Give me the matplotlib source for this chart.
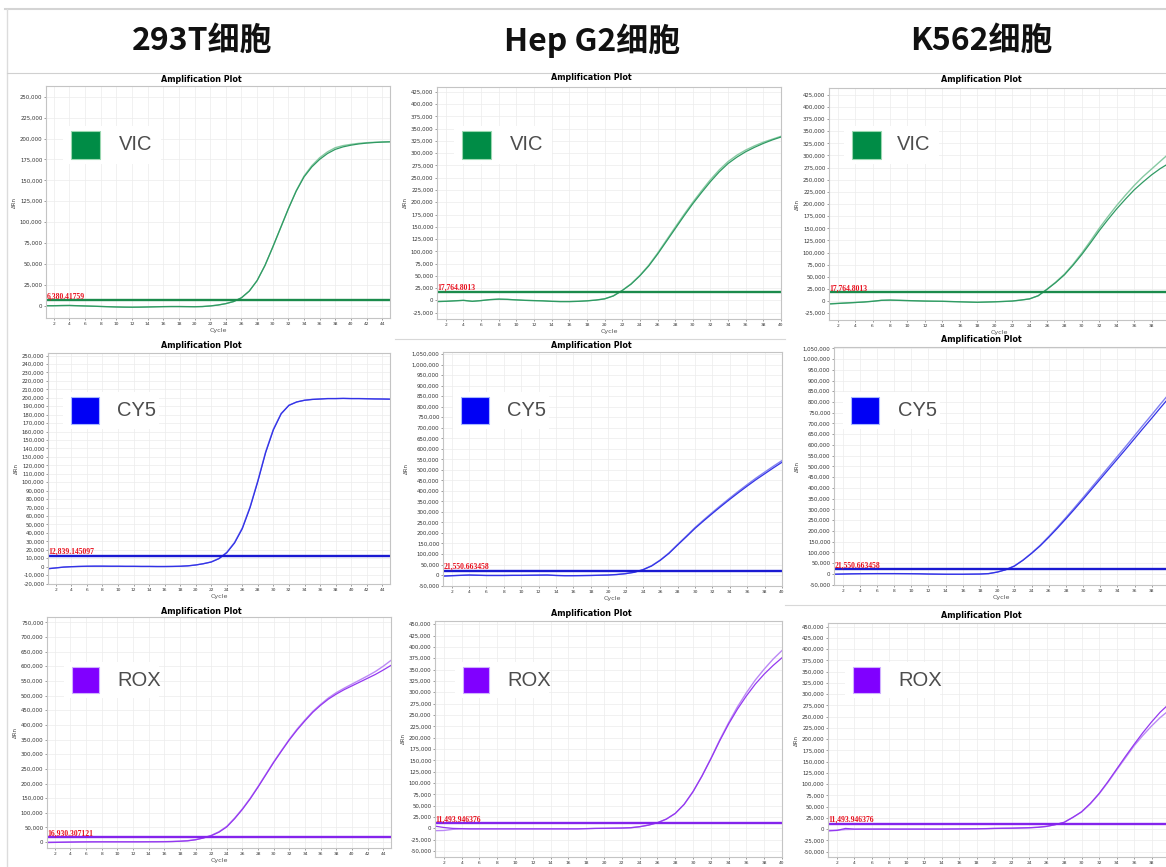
import matplotlib
matplotlib.use('Agg')
import matplotlib.pyplot as plt
from matplotlib.patches import Rectangle
from matplotlib.lines import Line2D
from matplotlib.ticker import FuncFormatter, MultipleLocator

W, H = 1166, 867

cells = ['293T细胞', 'Hep G2细胞', 'K562细胞']
dyes = ['VIC', 'CY5', 'ROX']

cycles_293t = list(range(1, 46))
cycles_k = list(range(1, 41))

# 293T
vic_293t_a = [0, 0, 200, 300, 0, -300, -600, -900, -1200, -1500, -1700, -1800, -1700, -1500, -1300,
              -1100, -1000, -1000, -1100, -1200, -1000, -300, 800, 2500, 5000, 9500, 17500, 30000, 48000, 70000,
              93000, 116000, 137000, 154000, 166000, 175000, 182000, 187000, 190000, 192000, 193500, 194500, 195200, 195700, 196000]
vic_293t_b = [0, 0, 200, 300, 0, -300, -600, -900, -1200, -1500, -1700, -1800, -1700, -1500, -1300,
              -1100, -1000, -1000, -1100, -1200, -1000, -300, 800, 2500, 5000, 9500, 17500, 30000, 48000, 70000,
              93000, 116000, 137500, 155000, 167500, 177000, 184000, 189000, 191500, 193000, 194200, 195000, 195500, 195900, 196200]
cy5_293t_a = [-2500, -1500, -500, 0, 300, 500, 600, 600, 500, 500, 400, 400, 300, 300, 200,
              200, 300, 500, 1000, 2000, 3500, 5500, 9500, 16500, 28000, 45000, 70000, 101000, 135000, 162000,
              181000, 191000, 195000, 197000, 198000, 198500, 199000, 199000, 199200, 199000, 199000, 198800, 198600, 198500, 198300]
cy5_293t_b = [-2300, -1400, -500, 0, 300, 500, 600, 600, 500, 500, 400, 400, 300, 300, 200,
              200, 300, 500, 1000, 2000, 3600, 5700, 9800, 17000, 28800, 46000, 71000, 102000, 136000, 163000,
              181500, 191200, 195100, 197100, 198100, 198600, 199100, 199100, 199300, 199100, 199100, 198900, 198700, 198600, 198400]
rox_293t_a = [-1500, -1000, -500, 0, 500, 800, 1000, 1000, 1000, 1000, 1000, 1000, 1000, 1200, 1300,
              1500, 2000, 3000, 4500, 8000, 14000, 22000, 34000, 52000, 80000, 112000, 148000, 188000, 230000, 272000,
              311000, 349000, 383000, 414000, 443000, 467000, 488000, 505000, 520000, 533000, 546000, 559000, 572000, 587000, 603000]
rox_293t_b = [0, 0, 300, 600, 900, 1100, 1200, 1300, 1300, 1300, 1300, 1300, 1400, 1500, 1600,
              1800, 2300, 3300, 5000, 8600, 14800, 23000, 35500, 54000, 82000, 114000, 150000, 190000, 232000, 274000,
              313000, 351000, 386000, 417000, 446000, 470000, 492000, 510000, 525000, 539000, 553000, 567000, 582000, 600000, 620000]

# Hep G2
vic_hep_a = [-2500, -2000, -1000, 0, -2000, -500, 1500, 2500, 2000, 1000, 0, -500, -1000, -2000, -2500,
             -2500, -2000, -1000, 500, 3000, 9000, 20000, 33000, 50000, 70000, 94000, 120000, 146000, 172000, 197000,
             220000, 242000, 262000, 279000, 292000, 303000, 312000, 320000, 327000, 333000]
vic_hep_b = [-2300, -1800, -900, 0, -1800, -400, 1500, 2400, 1900, 900, 0, -500, -1000, -1900, -2400,
             -2400, -1900, -900, 600, 3200, 9400, 20500, 33700, 51000, 71500, 96000, 122500, 149000, 175000, 200000,
             223500, 246000, 266000, 283000, 296000, 306500, 315000, 322500, 328500, 334500]
cy5_hep_a = [-5000, -3000, -1500, 0, -1000, -2000, -2000, -2000, -1500, -1500, -1000, -500, 0, -2000, -3000,
             -3000, -2500, -2000, -1000, 0, 2500, 6500, 13000, 25000, 43000, 70000, 103000, 143000, 182000, 222000,
             258000, 293000, 327000, 360000, 392000, 423000, 453000, 481000, 509000, 536000]
cy5_hep_b = [-4800, -2900, -1400, 0, -1000, -1900, -1900, -1900, -1400, -1400, -900, -400, 0, -1900, -2900,
             -2900, -2400, -1900, -900, 200, 2800, 7000, 13800, 26000, 44500, 72000, 105500, 146000, 185500, 226000,
             262500, 298000, 332500, 366000, 398500, 430000, 460500, 489000, 517000, 544000]
rox_hep_a = [5000, 2000, 0, -500, -1000, -1000, -1000, -1000, -1000, -1000, -1000, -1000, -1000, -1000, -1000,
             -1000, -1000, -500, 0, 200, 500, 800, 1500, 3700, 7300, 12500, 20500, 33000, 53000, 81000,
             115000, 153000, 193000, 230000, 263000, 292000, 318000, 340000, 359000, 376000]
rox_hep_b = [-5000, -4500, -2000, -1000, -1000, -1000, -1000, -1000, -1000, -1000, -1000, -1000, -1000, -1000, -1000,
             -1000, -1000, -500, 0, 200, 500, 800, 1500, 3700, 7300, 12500, 20500, 33000, 53000, 81000,
             115500, 154000, 195000, 233000, 268000, 299000, 327000, 351000, 373000, 392000]

# K562
vic_k_a = [-6000, -5000, -4000, -3000, -2000, -500, 1500, 2000, 1500, 1000, 500, 0, -300, -500, -1000,
           -1500, -2000, -2500, -2000, -1500, -800, 0, 2000, 4500, 11000, 24000, 38000, 54000, 74000, 96000,
           120000, 145000, 168000, 190000, 210000, 229000, 245000, 260000, 273000, 284000]
vic_k_b = [-5500, -4600, -3700, -2800, -1800, -400, 1500, 2000, 1500, 1000, 500, 0, -300, -500, -1000,
           -1500, -2000, -2500, -2000, -1500, -800, 0, 2000, 4500, 11000, 24500, 39000, 55500, 76000, 99000,
           124000, 150000, 174000, 197000, 218000, 238000, 256000, 272000, 288000, 304000]
cy5_k_a = [-2000, -1000, 0, 500, 800, 1000, 1000, 1000, 800, 500, 0, -1000, -1500, -2000, -2000,
           -2000, -1500, -1000, 1000, 8000, 19000, 36000, 63000, 95000, 130000, 170000, 212000, 256000, 301000, 347000,
           394000, 441000, 488000, 535000, 582000, 630000, 678000, 725000, 773000, 820000]
cy5_k_b = [-1800, -900, 0, 500, 800, 1000, 1000, 1000, 800, 500, 0, -1000, -1500, -2000, -2000,
           -2000, -1500, -1000, 1100, 8200, 19500, 36800, 64300, 97000, 133000, 174000, 217000, 262000, 308000, 355000,
           403000, 451000, 499000, 547000, 595000, 644000, 693000, 741000, 790000, 838000]
rox_k_a = [-4000, -3000, 1500, 0, 0, 0, 0, 0, 0, 0, 0, 0, 0, 0, 200,
           300, 500, 700, 1000, 1500, 1800, 2000, 2500, 3000, 4000, 6000, 10000, 15000, 26000, 38500,
           57000, 79000, 105000, 133000, 161000, 188000, 214000, 238000, 260000, 278000]
rox_k_b = [-3000, -2500, -1000, -500, 0, 0, 0, 0, 0, 0, 0, 0, 0, 0, 200,
           300, 500, 700, 1000, 1500, 1800, 2000, 2500, 3000, 4000, 6000, 10000, 15000, 26000, 38000,
           56000, 78000, 103500, 131000, 158000, 185000, 208000, 229000, 248000, 264000]

thresholds = [[6380.41759, 17764.8013, 17764.8013],
              [12839.145097, 21550.663458, 21550.663458],
              [16930.307121, 11493.946376, 11493.946376]]
thr_labels = [['6,380.41759', '17,764.8013', '17,764.8013'],
              ['12,839.145097', '21,550.663458', '21,550.663458'],
              ['16,930.307121', '11,493.946376', '11,493.946376']]

curves = [[(vic_293t_a, vic_293t_b), (vic_hep_a, vic_hep_b), (vic_k_a, vic_k_b)],
          [(cy5_293t_a, cy5_293t_b), (cy5_hep_a, cy5_hep_b), (cy5_k_a, cy5_k_b)],
          [(rox_293t_a, rox_293t_b), (rox_hep_a, rox_hep_b), (rox_k_a, rox_k_b)]]
cycles = [cycles_293t, cycles_k, cycles_k]
xmax = [45, 40, 40]

# layout in pixels: axes box (left, top, right, bottom), ylim, y step
boxes = [[(46, 86, 390, 318), (437, 87, 781, 319), (829, 88, 1169, 320)],
         [(48, 353, 390, 584), (443, 352, 782, 586), (834, 347, 1169, 585)],
         [(47, 617, 391, 848), (435, 621, 782, 857), (828, 623, 1169, 857)]]
ylims = [[(-14700, 262800), (-38000, 435000), (-39000, 439000)],
         [(-20500, 253000), (-52000, 1060000), (-52000, 1056000)],
         [(-20000, 768000), (-63000, 457000), (-62000, 458000)]]
ysteps = [[25000, 25000, 25000], [10000, 50000, 50000], [50000, 25000, 25000]]
title_y = [[79, 78, 80], [345, 346, 339], [612, 613, 615]]
title_x = [201, 591, 981]
squares = [[(71, 131, 100, 159), (462, 131, 491, 159), (852, 131, 881, 159)],
           [(71, 397, 99, 424), (461, 397, 489, 424), (851, 397, 879, 424)],
           [(72, 667, 99, 693), (463, 667, 489, 693), (853, 667, 880, 693)]]
text_x = [[119, 510, 897], [117, 507, 898], [117, 507, 898]]

sq_colors = ['#008c46', '#0000f5', '#8000ff']
sq_edges = ['#9ad7b0', '#a8b8ff', '#d0b0ff']
curve_colors = [('#2f9a63', '#86c9a2'), ('#3232e6', '#8080f2'), ('#9438f0', '#bb88f6')]
thr_colors = ['#1b8b4c', '#1a1ad2', '#8424ec']

fig = plt.figure(figsize=(W / 100, H / 100), dpi=100)
fig.patch.set_facecolor('white')


def px_rect(l, t, r, b):
    return [l / W, 1 - b / H, (r - l) / W, (b - t) / H]


def draw_panel(row, col):
    ax = fig.add_axes(px_rect(*boxes[row][col]))
    xs = cycles[col]
    a, b = curves[row][col]
    ax.plot(xs, b, color=curve_colors[row][1], lw=1.0)
    ax.plot(xs, a, color=curve_colors[row][0], lw=0.9)
    ax.axhline(thresholds[row][col], color=thr_colors[row], lw=1.7)
    ax.text(1.05, thresholds[row][col], thr_labels[row][col], color='#e8101e', fontsize=5.5,
            family='Liberation Serif', fontweight='bold', va='bottom', ha='left')
    ax.set_xlim(1, xmax[col])
    ax.set_ylim(*ylims[row][col])
    ax.xaxis.set_major_locator(MultipleLocator(2))
    ax.yaxis.set_major_locator(MultipleLocator(ysteps[row][col]))
    ax.yaxis.set_major_formatter(FuncFormatter(lambda v, p: f'{int(round(v)):,}'))
    ax.grid(True, color='#ececec', lw=0.5)
    ax.set_axisbelow(True)
    ax.tick_params(axis='y', labelsize=3.9, length=1.5, width=0.4, pad=1, colors='#555', labelcolor='#333')
    ax.tick_params(axis='x', labelsize=3.2, length=1.5, width=0.4, pad=1.5, colors='#555', labelcolor='#333')
    for s in ax.spines.values():
        s.set_color('#c4c4c4')
        s.set_linewidth(0.8)
    ax.set_xlabel('Cycle', fontsize=4.6, color='#555', labelpad=1.5)
    ax.set_ylabel('ΔRn', fontsize=4, color='#444', labelpad=2)
    fig.text(title_x[col] / W, 1 - title_y[row][col] / H, 'Amplification Plot', fontsize=5.8,
             fontweight='bold', family='DejaVu Sans', ha='center', va='center')

    l, t, r, bt = squares[row][col]
    fig.add_artist(Rectangle(((l - 8) / W, 1 - (bt + 5) / H), (text_x[row][col] + 50 - l) / W, (bt - t + 10) / H,
                             transform=fig.transFigure, facecolor='white', edgecolor='none'))
    fig.add_artist(Rectangle((l / W, 1 - bt / H), (r - l) / W, (bt - t) / H, transform=fig.transFigure,
                             facecolor=sq_colors[row], edgecolor=sq_edges[row], lw=0.8))
    fig.text(text_x[row][col] / W, 1 - ((t + bt) / 2) / H, dyes[row], fontsize=14.5, color='#4d4d4d',
             family='Liberation Sans', va='center', ha='left')


for row in range(3):
    for col in range(3):
        draw_panel(row, col)

header_x = [202, 592, 981]
for i, name in enumerate(cells):
    fig.text(header_x[i] / W, 1 - 41 / H, name, fontsize=23, fontweight='bold', ha='center', va='center',
             family=['Noto Sans CJK SC', 'DejaVu Sans'], color='#111')

fig.add_artist(Line2D([5 / W, 1], [1 - 9 / H, 1 - 9 / H], transform=fig.transFigure, color='#d4d4d4', lw=1.5))
fig.add_artist(Line2D([7 / W, 7 / W], [0, 1 - 9 / H], transform=fig.transFigure, color='#dcdcdc', lw=1.0))
fig.add_artist(Line2D([7 / W, 1], [1 - 73 / H, 1 - 73 / H], transform=fig.transFigure, color='#d0d0d0', lw=0.8))
fig.add_artist(Line2D([395 / W, 785 / W], [1 - 339 / H, 1 - 339 / H], transform=fig.transFigure, color='#d8d8d8', lw=0.8))
fig.add_artist(Line2D([785 / W, 1], [1 - 605 / H, 1 - 605 / H], transform=fig.transFigure, color='#d8d8d8', lw=0.8))

plt.savefig('out.png', dpi=100)
